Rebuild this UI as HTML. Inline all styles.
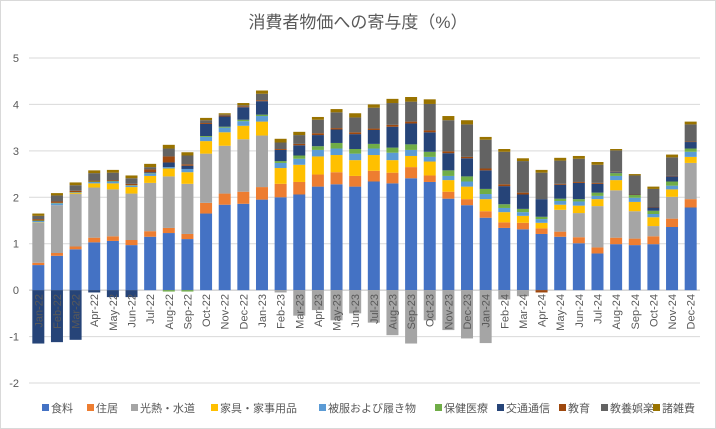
<!DOCTYPE html>
<html><head><meta charset="utf-8"><style>
body{margin:0;background:#fff;}
svg{display:block;font-family:"Liberation Sans","Noto Sans CJK JP",sans-serif;}
</style></head><body>
<svg id="chart" width="716" height="429">
<rect x="0.5" y="0.5" width="715" height="428" fill="#fff" stroke="#d9d9d9"/>
<text x="358" y="28" text-anchor="middle" font-size="17" fill="#595959">消費者物価への寄与度（%）</text>
<g id="grid"></g><g id="bars"></g><g id="xlab"></g><g id="legend"></g>
</svg>
<script>
const months=["Jan-22","Feb-22","Mar-22","Apr-22","May-22","Jun-22","Jul-22","Aug-22","Sep-22","Oct-22","Nov-22","Dec-22","Jan-23","Feb-23","Mar-23","Apr-23","May-23","Jun-23","Jul-23","Aug-23","Sep-23","Oct-23","Nov-23","Dec-23","Jan-24","Feb-24","Mar-24","Apr-24","May-24","Jun-24","Jul-24","Aug-24","Sep-24","Oct-24","Nov-24","Dec-24"];
const seriesNames=["食料","住居","光熱・水道","家具・家事用品","被服および履き物","保健医療","交通通信","教育","教養娯楽","諸雑費"];
const yTicks=[5,4,3,2,1,0,-1,-2];
const food=[0.54,0.74,0.88,1.03,1.06,0.97,1.15,1.23,1.1,1.65,1.84,1.86,1.95,2.0,2.06,2.23,2.28,2.23,2.34,2.3,2.41,2.33,1.97,1.83,1.56,1.34,1.31,1.21,1.15,1.01,0.79,0.99,0.97,0.99,1.36,1.78];
const housing=[0.05,0.06,0.06,0.1,0.1,0.11,0.12,0.11,0.11,0.23,0.24,0.26,0.27,0.29,0.27,0.26,0.26,0.23,0.23,0.23,0.24,0.14,0.15,0.13,0.14,0.12,0.14,0.12,0.11,0.13,0.13,0.14,0.14,0.17,0.18,0.18];
const utilities=[0.86,1.03,1.13,1.08,1.01,1.0,1.04,1.11,1.08,1.06,1.03,1.13,1.11,-0.05,-0.55,-0.43,-0.65,-0.5,-0.7,-0.97,-1.15,-0.65,-0.86,-1.04,-1.14,-0.2,-0.13,0,0.47,0.52,0.89,1.02,0.59,0.22,0.47,0.78];
const furniture=[0.01,0,0.02,0.09,0.13,0.14,0.15,0.17,0.25,0.27,0.29,0.29,0.3,0.34,0.37,0.39,0.37,0.34,0.34,0.27,0.24,0.3,0.25,0.27,0.26,0.22,0.15,0.12,0.11,0.16,0.15,0.22,0.2,0.19,0.16,0.13];
const clothing=[0.03,0.04,0.01,0.03,0.04,0.03,0.05,0.03,0.07,0.09,0.1,0.1,0.12,0.11,0.13,0.14,0.14,0.14,0.14,0.16,0.13,0.1,0.09,0.11,0.11,0.09,0.08,0.08,0.08,0.09,0.07,0.09,0.09,0.07,0.08,0.11];
const medical=[0.01,0.01,0.01,0.01,0.01,0.01,0.01,-0.03,-0.03,0.02,0.02,0.03,0.03,0.04,0.07,0.08,0.12,0.1,0.1,0.11,0.12,0.11,0.12,0.11,0.11,0.08,0.07,0.05,0.05,0.05,0.07,0.06,0.06,0.07,0.09,0.07];
const transport=[-1.15,-1.12,-1.07,-0.05,-0.15,-0.15,0.02,0.1,0.07,0.26,0.22,0.27,0.29,0.24,0.22,0.24,0.29,0.32,0.3,0.45,0.45,0.42,0.37,0.39,0.4,0.39,0.31,0.38,0.3,0.35,0.19,0.02,0.01,0.07,0.11,0.14];
const education=[0.03,0.03,0.03,0.02,0.02,0.03,0.06,0.13,0.03,0.02,0.02,0.02,0.02,0.02,0.03,0.04,0.03,0.04,0.03,0.04,0.04,0.04,0.04,0.03,0.04,0.04,0.04,-0.05,0.02,0.02,0.02,0.01,0.01,0.01,0.01,0.01];
const culture=[0.07,0.13,0.12,0.16,0.16,0.12,0.05,0.17,0.19,0.06,0.02,0.02,0.14,0.14,0.19,0.29,0.34,0.32,0.45,0.47,0.43,0.57,0.67,0.7,0.62,0.7,0.68,0.57,0.5,0.5,0.39,0.46,0.4,0.39,0.4,0.37];
const misc=[0.05,0.05,0.06,0.06,0.06,0.06,0.07,0.08,0.07,0.05,0.03,0.05,0.07,0.08,0.07,0.06,0.07,0.09,0.07,0.09,0.1,0.1,0.09,0.09,0.06,0.06,0.06,0.06,0.06,0.06,0.06,0.03,0.03,0.05,0.06,0.06];
const seriesData=[food,housing,utilities,furniture,clothing,medical,transport,education,culture,misc];
const colors=["#4472C4","#ED7D31","#A5A5A5","#FFC000","#5B9BD5","#70AD47","#264478","#9E480E","#636363","#997300"];
const NS="http://www.w3.org/2000/svg";
const yMin=-2,yMax=5,plotTop=58,plotBot=383,plotLeft=29,plotRight=700;
function y(v){return plotBot-(v-yMin)/(yMax-yMin)*(plotBot-plotTop);}
const step=(plotRight-plotLeft)/months.length;
function x(i){return plotLeft+step*(i+0.5);}
function mk(t,a,p){const e=document.createElementNS(NS,t);for(const k in a)e.setAttribute(k,a[k]);p.appendChild(e);return e;}
const grid=document.getElementById('grid');
yTicks.forEach(t=>{
  const l=mk('line',{x1:plotLeft,x2:plotRight,y1:y(t),y2:y(t),stroke:t===0?'#bfbfbf':'#d9d9d9','stroke-width':1},grid);
  
  
  const tx=mk('text',{x:19,y:y(t)+4,'text-anchor':'end','font-size':11,fill:'#595959'},grid);
  tx.textContent=t;
  
  
});
const bars=document.getElementById('bars');
const bw=12;
months.forEach((m,i)=>{
  let pos=0,neg=0;
  seriesData.forEach((s,k)=>{
    const v=s[i]; if(!v)return;
    let y0,y1;
    if(v>0){y0=pos;y1=pos+v;pos=y1;}else{y0=neg;y1=neg+v;neg=y1;}
    const r=mk('rect',{x:x(i)-bw/2,y:Math.min(y(y0),y(y1)),width:bw,height:Math.abs(y(y0)-y(y1)),fill:colors[k]},bars);
    
    
  });
});
const xl=document.getElementById('xlab');
months.forEach((m,i)=>{
  const t=mk('text',{x:0,y:0,'text-anchor':'end','font-size':11,fill:'#595959',transform:`translate(${x(i)+4},294) rotate(-90)`},xl);
  t.textContent=m;
  
  
});
const lg=document.getElementById('legend');
const lx=[42,87,131,211,319,435,497,559,601,653];
seriesNames.forEach((n,k)=>{
  const r=mk('rect',{x:lx[k],y:404,width:7,height:7,fill:colors[k]},lg);
  
  
  const t=mk('text',{x:lx[k]+9,y:412,'font-size':11,fill:'#595959'},lg);
  t.textContent=n;
  
  
});
</script>
</body></html>
